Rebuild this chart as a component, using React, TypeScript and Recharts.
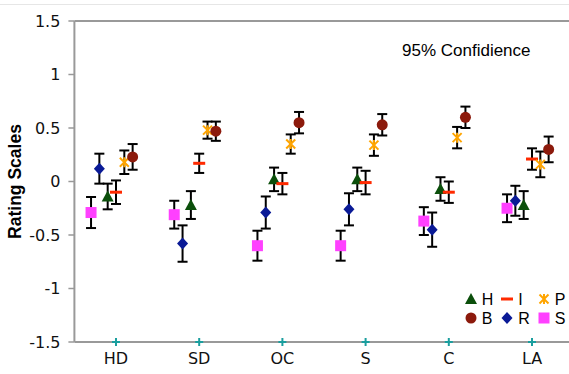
import {
  ScatterChart,
  Scatter,
  XAxis,
  YAxis,
  ErrorBar,
  ReferenceLine,
  Legend,
} from "recharts";

const categories = ["HD", "SD", "OC", "S", "C", "LA"];
const yTicks = [-1.5, -1, -0.5, 0, 0.5, 1, 1.5];

// means and 95% half-widths, one value per category
const hValues = [-0.14, -0.22, 0.02, 0.02, -0.07, -0.22];
const hErrors = [0.12, 0.13, 0.11, 0.11, 0.11, 0.13];
const iValues = [-0.1, 0.17, -0.02, -0.01, -0.1, 0.21];
const iErrors = [0.11, 0.09, 0.1, 0.11, 0.1, 0.1];
const pValues = [0.18, 0.48, 0.35, 0.34, 0.41, 0.16];
const pErrors = [0.11, 0.08, 0.09, 0.1, 0.1, 0.12];
const bValues = [0.23, 0.47, 0.55, 0.53, 0.6, 0.3];
const bErrors = [0.12, 0.09, 0.1, 0.1, 0.1, 0.12];
const rValues = [0.12, -0.58, -0.29, -0.26, -0.45, -0.18];
const rErrors = [0.14, 0.17, 0.15, 0.15, 0.16, 0.14];
const sValues = [-0.29, -0.31, -0.6, -0.6, -0.37, -0.25];
const sErrors = [0.145, 0.13, 0.14, 0.14, 0.13, 0.13];

type Kind = "triangle" | "dash" | "star" | "circle" | "diamond" | "square";

const SERIES = [
  { name: "S", values: sValues, errors: sErrors, shift: -0.3, kind: "square" as Kind, color: "#ff40ff" },
  { name: "R", values: rValues, errors: rErrors, shift: -0.2, kind: "diamond" as Kind, color: "#0a1a96" },
  { name: "H", values: hValues, errors: hErrors, shift: -0.1, kind: "triangle" as Kind, color: "#0b4f0b" },
  { name: "I", values: iValues, errors: iErrors, shift: 0, kind: "dash" as Kind, color: "#ff2a00" },
  { name: "P", values: pValues, errors: pErrors, shift: 0.1, kind: "star" as Kind, color: "#ffa500" },
  { name: "B", values: bValues, errors: bErrors, shift: 0.2, kind: "circle" as Kind, color: "#8c1a0c" },
];

const LEGEND_ORDER = ["H", "I", "P", "B", "R", "S"];

const marker = (kind: Kind, cx: number, cy: number, color: string) => {
  switch (kind) {
    case "triangle":
      return <polygon points={`${cx},${cy - 6} ${cx + 6},${cy + 5} ${cx - 6},${cy + 5}`} fill={color} />;
    case "dash":
      return <rect x={cx - 6} y={cy - 1.5} width={12} height={3} fill={color} />;
    case "star":
      return (
        <g stroke={color} strokeWidth={2}>
          <line x1={cx - 4.5} y1={cy - 4.5} x2={cx + 4.5} y2={cy + 4.5} />
          <line x1={cx - 4.5} y1={cy + 4.5} x2={cx + 4.5} y2={cy - 4.5} />
          <line x1={cx} y1={cy - 5} x2={cx} y2={cy + 5} />
        </g>
      );
    case "circle":
      return <circle cx={cx} cy={cy} r={5.5} fill={color} />;
    case "diamond":
      return <polygon points={`${cx},${cy - 6} ${cx + 5.5},${cy} ${cx},${cy + 6} ${cx - 5.5},${cy}`} fill={color} />;
    default:
      return <rect x={cx - 5.5} y={cy - 5.5} width={11} height={11} fill={color} />;
  }
};

const XTick = (props: any) => {
  const { x, y, payload } = props;
  const label = categories[Math.round(payload.value) - 1];
  return (
    <g>
      <line x1={x - 4} x2={x + 4} y1={y} y2={y} stroke="#1a9e9e" strokeWidth={2} />
      <line x1={x} x2={x} y1={y - 4} y2={y + 4} stroke="#1a9e9e" strokeWidth={2} />
      <text x={x} y={y + 22} textAnchor="middle" fontSize={16} fill="#111" fontFamily="DejaVu Sans">
        {label}
      </text>
    </g>
  );
};

const LegendBox = () => (
  <div
    style={{
      display: "grid",
      gridTemplateColumns: "36.5px 36.5px 36.5px",
      gridAutoRows: "19px",
      fontFamily: "Liberation Sans, Arial, sans-serif",
      fontSize: 16,
      color: "#000",
    }}
  >
    {LEGEND_ORDER.map((n) => {
      const s = SERIES.find((d) => d.name === n)!;
      return (
        <div key={n} style={{ display: "flex", alignItems: "center" }}>
          <svg width={14} height={14} style={{ flex: "none" }}>
            {marker(s.kind, 7, 7, s.color)}
          </svg>
          <span style={{ marginLeft: 4, lineHeight: "19px" }}>{n}</span>
        </div>
      );
    })}
  </div>
);

const App = () => {
  const seriesData = SERIES.map((s) => ({
    ...s,
    data: categories.map((_, i) => ({
      x: i + 1 + s.shift,
      y: s.values[i],
      err: s.errors[i],
    })),
  }));

  return (
    <div
      style={{
        position: "absolute",
        left: 0,
        top: 0,
        width: 569,
        height: 374,
        overflow: "hidden",
        background: "#fff",
      }}
    >
      <div
        style={{ position: "absolute", left: 0, top: 4, width: 569, height: 1, background: "#e6e6e6" }}
      />
      <ScatterChart
        width={580}
        height={374}
        margin={{ top: 21, right: 6.4, bottom: 0, left: 0 }}
      >
        <XAxis
          type="number"
          dataKey="x"
          domain={[0.5, 6.5]}
          ticks={[1, 2, 3, 4, 5, 6]}
          allowDataOverflow
          height={32}
          tickSize={0}
          tickMargin={0}
          tickLine={false}
          axisLine={{ stroke: "#999", strokeWidth: 2 }}
          tick={<XTick />}
        />
        <YAxis
          type="number"
          dataKey="y"
          domain={[-1.5, 1.5]}
          ticks={yTicks}
          allowDataOverflow
          width={74.4}
          tickSize={6}
          tickMargin={8}
          axisLine={{ stroke: "#999", strokeWidth: 2 }}
          tickLine={{ stroke: "#999", strokeWidth: 1.5 }}
          tick={{ fontSize: 16, fill: "#111", fontFamily: "DejaVu Sans" }}
          label={{
            content: () => (
              <text
                x={15}
                y={181.5}
                transform="rotate(-90 15 181.5)"
                textAnchor="middle"
                dominantBaseline="central"
                fontSize={17.5}
                fontWeight="bold"
                fontFamily="Liberation Sans, Arial, sans-serif"
                fill="#000"
              >
                Rating Scales
              </text>
            ),
          }}
        />
        <ReferenceLine y={1.5} stroke="#999" strokeWidth={2} />
        {seriesData.map((s) => (
          <Scatter
            key={s.name}
            name={s.name}
            data={s.data}
            isAnimationActive={false}
            shape={(p: any) => marker(s.kind, p.cx, p.cy, s.color)}
          >
            <ErrorBar
              dataKey="err"
              direction="y"
              width={5}
              strokeWidth={2}
              stroke="#000"
              isAnimationActive={false}
            />
          </Scatter>
        ))}
        <Legend
          layout="horizontal"
          verticalAlign="middle"
          align="center"
          content={<LegendBox />}
          wrapperStyle={{ left: 463.7, top: 289.5, width: 112, height: 38 }}
        />
      </ScatterChart>
      <div
        style={{
          position: "absolute",
          left: 402,
          top: 41,
          fontFamily: "Liberation Sans, Arial, sans-serif",
          fontSize: 17,
          lineHeight: "20px",
          color: "#000",
          whiteSpace: "nowrap",
        }}
      >
        95% Confidience
      </div>
    </div>
  );
};

export default App;
